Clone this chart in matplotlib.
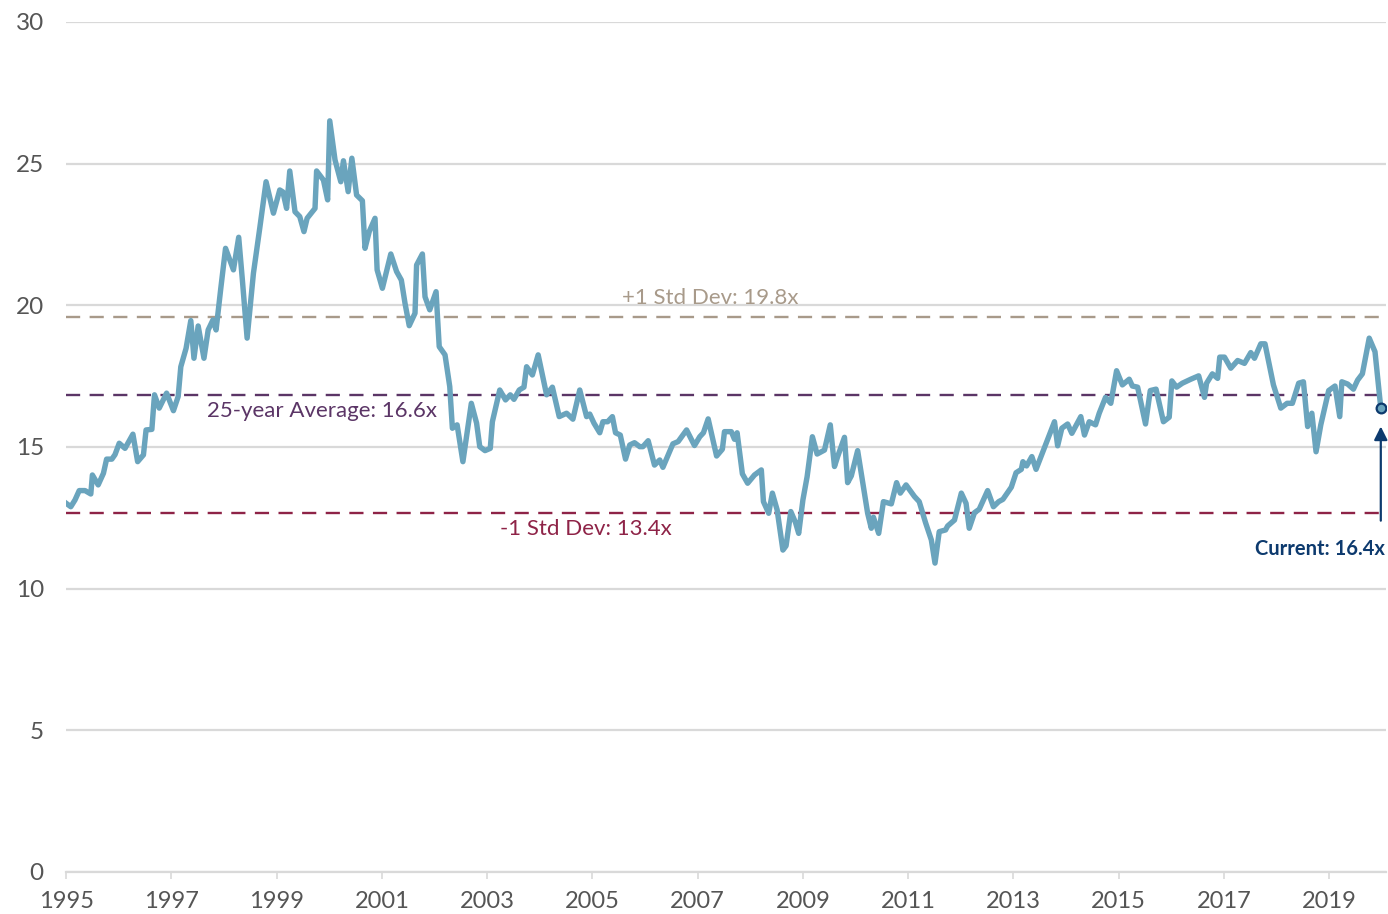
import matplotlib
matplotlib.use("Agg")
import matplotlib.pyplot as plt

# forward P/E (decimal year, multiple)
dates = [
    1995.01, 1995.09, 1995.17, 1995.25, 1995.36, 1995.47, 1995.50, 1995.61, 1995.71, 1995.77,
    1995.87, 1995.93, 1996.01, 1996.12, 1996.27, 1996.36, 1996.47, 1996.52, 1996.63, 1996.68,
    1996.77, 1996.91, 1997.04, 1997.13, 1997.18, 1997.28, 1997.37, 1997.43, 1997.51, 1997.62,
    1997.70, 1997.79, 1997.85, 1997.94, 1998.03, 1998.18, 1998.28, 1998.35, 1998.44, 1998.56,
    1998.68, 1998.80, 1998.94, 1999.06, 1999.12, 1999.19, 1999.25, 1999.35, 1999.44, 1999.52,
    1999.58, 1999.73, 1999.76, 1999.89, 1999.97, 2000.01, 2000.11, 2000.22, 2000.27, 2000.36,
    2000.43, 2000.52, 2000.63, 2000.68, 2000.76, 2000.87, 2000.91, 2001.01, 2001.17, 2001.28,
    2001.37, 2001.44, 2001.52, 2001.63, 2001.66, 2001.77, 2001.82, 2001.91, 2002.03, 2002.09,
    2002.20, 2002.29, 2002.34, 2002.43, 2002.54, 2002.70, 2002.80, 2002.86, 2002.96, 2003.06,
    2003.10, 2003.24, 2003.35, 2003.44, 2003.51, 2003.61, 2003.70, 2003.75, 2003.86, 2003.97,
    2004.13, 2004.24, 2004.37, 2004.51, 2004.63, 2004.76, 2004.89, 2004.95, 2005.03, 2005.14,
    2005.20, 2005.29, 2005.38, 2005.44, 2005.53, 2005.63, 2005.71, 2005.80, 2005.90, 2005.96,
    2006.06, 2006.18, 2006.28, 2006.34, 2006.53, 2006.63, 2006.79, 2006.94, 2007.04, 2007.11,
    2007.20, 2007.36, 2007.47, 2007.51, 2007.64, 2007.70, 2007.75, 2007.85, 2007.95, 2008.08,
    2008.21, 2008.25, 2008.35, 2008.42, 2008.51, 2008.62, 2008.68, 2008.77, 2008.86, 2008.92,
    2009.00, 2009.08, 2009.18, 2009.27, 2009.41, 2009.52, 2009.60, 2009.66, 2009.79, 2009.85,
    2009.92, 2010.04, 2010.17, 2010.23, 2010.30, 2010.34, 2010.44, 2010.53, 2010.68, 2010.78,
    2010.85, 2010.96, 2011.12, 2011.21, 2011.33, 2011.44, 2011.51, 2011.59, 2011.71, 2011.75,
    2011.88, 2012.01, 2012.10, 2012.16, 2012.26, 2012.35, 2012.51, 2012.62, 2012.72, 2012.80,
    2012.96, 2013.05, 2013.15, 2013.18, 2013.25, 2013.35, 2013.43, 2013.56, 2013.67, 2013.78,
    2013.84, 2013.92, 2014.03, 2014.11, 2014.28, 2014.35, 2014.44, 2014.56, 2014.63, 2014.75,
    2014.85, 2014.96, 2015.07, 2015.20, 2015.26, 2015.36, 2015.51, 2015.60, 2015.71, 2015.85,
    2015.96, 2016.01, 2016.10, 2016.21, 2016.37, 2016.52, 2016.63, 2016.67, 2016.78, 2016.88,
    2016.92, 2017.01, 2017.13, 2017.26, 2017.39, 2017.51, 2017.58, 2017.70, 2017.78, 2017.94,
    2018.08, 2018.20, 2018.30, 2018.42, 2018.51, 2018.59, 2018.67, 2018.75, 2018.84, 2018.99,
    2019.11, 2019.20, 2019.24, 2019.35, 2019.46, 2019.54, 2019.63, 2019.76, 2019.87, 2019.98,
]
pe = [
    13.00, 12.89, 13.13, 13.46, 13.46, 13.34, 14.01, 13.66, 14.07, 14.57,
    14.57, 14.73, 15.13, 14.95, 15.45, 14.48, 14.72, 15.60, 15.62, 16.84,
    16.37, 16.90, 16.28, 16.78, 17.83, 18.48, 19.46, 18.13, 19.27, 18.13,
    19.13, 19.48, 19.13, 20.60, 22.01, 21.25, 22.40, 20.89, 18.84, 21.13,
    22.72, 24.36, 23.25, 24.07, 24.00, 23.42, 24.74, 23.30, 23.13, 22.60,
    23.07, 23.42, 24.74, 24.42, 23.72, 26.51, 25.13, 24.36, 25.10, 24.01,
    25.19, 23.89, 23.69, 22.01, 22.60, 23.07, 21.25, 20.60, 21.81, 21.19,
    20.89, 20.07, 19.28, 19.72, 21.42, 21.81, 20.30, 19.84, 20.48, 18.54,
    18.25, 17.13, 15.66, 15.78, 14.48, 16.54, 15.84, 15.01, 14.87, 14.95,
    15.89, 17.01, 16.66, 16.84, 16.68, 17.01, 17.11, 17.83, 17.54, 18.25,
    16.84, 17.11, 16.07, 16.19, 15.98, 17.01, 16.07, 16.16, 15.84, 15.50,
    15.89, 15.89, 16.07, 15.50, 15.42, 14.57, 15.07, 15.15, 15.01, 15.01,
    15.22, 14.36, 14.54, 14.28, 15.11, 15.19, 15.60, 15.05, 15.36, 15.50,
    15.99, 14.68, 14.92, 15.54, 15.54, 15.27, 15.50, 14.05, 13.72, 14.01,
    14.19, 13.07, 12.66, 13.37, 12.78, 11.36, 11.51, 12.72, 12.33, 11.95,
    13.13, 13.95, 15.36, 14.75, 14.89, 15.78, 14.31, 14.66, 15.34, 13.74,
    13.98, 14.87, 13.37, 12.66, 12.13, 12.52, 11.95, 13.07, 12.99, 13.74,
    13.37, 13.66, 13.25, 13.07, 12.33, 11.72, 10.90, 12.01, 12.07, 12.21,
    12.42, 13.37, 13.01, 12.13, 12.68, 12.80, 13.46, 12.89, 13.07, 13.15,
    13.58, 14.09, 14.21, 14.48, 14.33, 14.66, 14.21, 14.83, 15.36, 15.89,
    15.04, 15.66, 15.81, 15.48, 16.07, 15.42, 15.89, 15.78, 16.19, 16.75,
    16.54, 17.69, 17.19, 17.39, 17.15, 17.11, 15.81, 16.99, 17.04, 15.89,
    16.05, 17.33, 17.11, 17.25, 17.39, 17.51, 16.75, 17.25, 17.58, 17.42,
    18.17, 18.17, 17.78, 18.05, 17.95, 18.33, 18.13, 18.64, 18.64, 17.19,
    16.37, 16.54, 16.54, 17.25, 17.30, 15.72, 16.19, 14.83, 15.78, 16.99,
    17.15, 16.07, 17.30, 17.22, 17.04, 17.36, 17.58, 18.84, 18.36, 16.37,
]

# reference levels where the dashed lines sit, and their labels
level_values = [19.6, 16.85, 12.67]
level_labels = ["+1 Std Dev: 19.8x", "25-year Average: 16.6x", "-1 Std Dev: 13.4x"]
level_colors = ["#a89a8a", "#5b3566", "#8e2347"]
current_label = "Current: 16.4x"

year_ticks = list(range(1995, 2020, 2))
y_ticks = [0, 5, 10, 15, 20, 25, 30]

plt.rcParams["font.family"] = ["Lato", "DejaVu Sans"]

fig = plt.figure(figsize=(13.88, 9.14), dpi=100)
ax = fig.add_axes([0.0476, 0.046, 0.951, 0.930])

ax.set_xlim(1995, 2020.08)
ax.set_ylim(0, 30)
ax.set_yticks(y_ticks)
ax.set_xticks(year_ticks)
ax.set_xticklabels([str(y) for y in year_ticks])
ax.yaxis.grid(True, color="#d9d9d9", linewidth=1.6)
ax.set_axisbelow(True)
for side in ["top", "right", "left"]:
    ax.spines[side].set_visible(False)
ax.spines["bottom"].set_color("#d9d9d9")
ax.spines["bottom"].set_linewidth(1.6)
ax.tick_params(axis="y", length=0, pad=16, labelsize=17.5, labelcolor="#555555")
ax.tick_params(axis="x", length=5, width=1.2, color="#d9d9d9", pad=9,
               labelsize=17, labelcolor="#555555")

for val, col in zip(level_values, level_colors):
    ax.axhline(val, color=col, linewidth=1.7, dashes=(6, 4), zorder=2)

ax.plot(dates, pe, color="#6aa4bd", linewidth=3.9, solid_joinstyle="round", zorder=3)

ax.text(2007.24, level_values[0] + 0.3, level_labels[0], color=level_colors[0],
        fontsize=16, ha="center", va="bottom")
ax.text(1997.68, level_values[1] - 0.22, level_labels[1], color=level_colors[1],
        fontsize=16, ha="left", va="top")
ax.text(2003.25, level_values[2] - 0.22, level_labels[2], color=level_colors[2],
        fontsize=16, ha="left", va="top")

# current value marker and arrow
ax.plot(dates[-1], pe[-1], marker="o", markersize=7, markerfacecolor="#6aa4bd",
        markeredgecolor="#0d3a6e", markeredgewidth=1.6, zorder=4)
ax.annotate("", xy=(dates[-1], pe[-1] - 0.55), xytext=(dates[-1], 12.3),
            arrowprops=dict(arrowstyle="-|>", color="#0d3a6e", lw=1.6,
                            mutation_scale=20), zorder=4)
ax.text(2020.06, 11.75, current_label, color="#0d3a6e", fontsize=14.5,
        fontweight="bold", ha="right", va="top")

fig.savefig("out.png", dpi=100)
